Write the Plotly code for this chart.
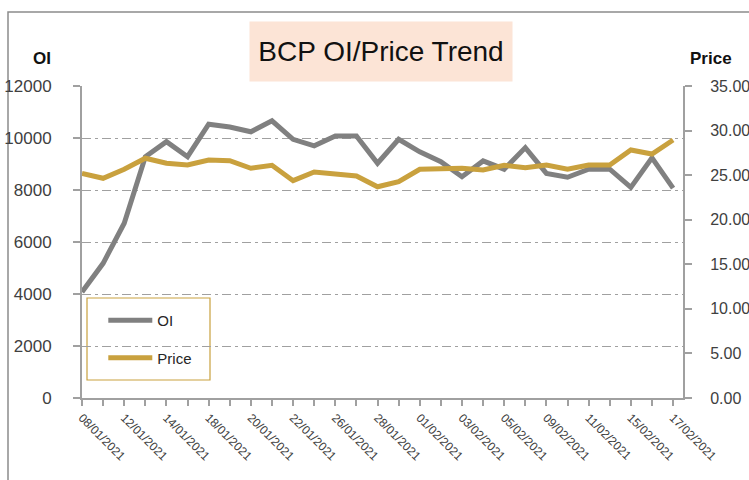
import plotly.graph_objects as go

dates = ["08/01/2021", "11/01/2021", "12/01/2021", "13/01/2021", "14/01/2021", "15/01/2021",
         "18/01/2021", "19/01/2021", "20/01/2021", "21/01/2021", "22/01/2021", "25/01/2021",
         "26/01/2021", "27/01/2021", "28/01/2021", "29/01/2021", "01/02/2021", "02/02/2021",
         "03/02/2021", "04/02/2021", "05/02/2021", "08/02/2021", "09/02/2021", "10/02/2021",
         "11/02/2021", "12/02/2021", "15/02/2021", "16/02/2021", "17/02/2021"]
oi = [4080, 5180, 6720, 9280, 9860, 9280, 10530, 10420, 10240, 10660, 9950, 9700, 10080, 10080,
      9030, 9950, 9470, 9090, 8510, 9120, 8800, 9630, 8640, 8490, 8800, 8800, 8100, 9240, 8070]
price = [25.20, 24.65, 25.66, 26.90, 26.33, 26.14, 26.70, 26.62, 25.77, 26.10, 24.38, 25.35, 25.13,
         24.90, 23.70, 24.27, 25.66, 25.77, 25.77, 25.58, 26.10, 25.84, 26.14, 25.66, 26.14, 26.14,
         27.82, 27.37, 28.94]
tick_labels = [d if i % 2 == 0 else "" for i, d in enumerate(dates)]

GRAY = "#808080"
GOLD = "#C9A13E"
AXIS = "#A0A0A0"
TXT = "#404040"
FONT = "Liberation Sans, Arial, sans-serif"

fig = go.Figure()
fig.add_trace(go.Scatter(x=dates, y=oi, name="OI", mode="lines", legendgroup="a",
                         line=dict(color=GRAY, width=5)))
fig.add_trace(go.Scatter(x=dates, y=price, name="Price", mode="lines", legendgroup="b",
                         yaxis="y2", line=dict(color=GOLD, width=5)))

fig.update_layout(
    width=749, height=480,
    margin=dict(l=82, r=66, t=86, b=82, autoexpand=False),
    paper_bgcolor="white", plot_bgcolor="white",
    font=dict(family=FONT, color=TXT),
    xaxis=dict(type="category", range=[0, 28.47], tickmode="array", tickvals=dates,
               ticktext=tick_labels, tickangle=45, ticks="outside", ticklen=6,
               tickcolor=AXIS, tickwidth=1.5, showline=True, linecolor=AXIS, linewidth=2,
               showgrid=False, tickfont=dict(size=12, color=TXT), zeroline=False,
               automargin=False),
    yaxis=dict(range=[0, 12000], dtick=2000, tickformat="d", ticks="outside", ticklen=7,
               tickcolor=AXIS, tickwidth=1.5, showline=True, linecolor=AXIS, linewidth=2,
               showgrid=True, gridcolor="#A0A0A0", gridwidth=1.2, griddash="9px,4px,3px,4px",
               zeroline=False, tickfont=dict(size=17, color=TXT), ticklabelstandoff=18,
               automargin=False),
    yaxis2=dict(range=[0, 35], dtick=5, tickformat=".2f", overlaying="y", side="right",
                ticks="outside", ticklen=7, tickcolor=AXIS, tickwidth=1.5, showline=True,
                linecolor=AXIS, linewidth=2, showgrid=False, zeroline=False,
                tickfont=dict(size=16, color=TXT), ticklabelstandoff=15, automargin=False),
    legend=dict(x=(103.3 - 82) / 601, y=(398 - 304) / 312, xanchor="left", yanchor="top",
                bgcolor="rgba(0,0,0,0)", borderwidth=0,
                font=dict(size=15, color="#262626"), traceorder="grouped", tracegroupgap=15,
                itemwidth=44),
    shapes=[
        dict(type="rect", xref="paper", yref="paper", x0=(87 - 82) / 601, x1=(210 - 82) / 601,
             y0=(398 - 380) / 312, y1=(398 - 298) / 312, line=dict(color=GOLD, width=1.2),
             fillcolor="white", layer="below"),
        dict(type="rect", xref="paper", yref="paper", x0=(8 - 82) / 601, x1=1.3,
             y0=-0.5, y1=(398 - 12) / 312, line=dict(color="#8C8C8C", width=1.5),
             fillcolor="rgba(0,0,0,0)", layer="below"),
    ],
    annotations=[
        dict(text="BCP OI/Price Trend", xref="paper", yref="paper", x=(381 - 82) / 601,
             y=(398 - 52) / 312, xanchor="center", yanchor="middle", showarrow=False,
             width=260, height=57, bgcolor="#FCE4D6", font=dict(size=28, color="#111111")),
        dict(text="<b>OI</b>", xref="paper", yref="paper", x=(42 - 82) / 601,
             y=(398 - 58) / 312, xanchor="center", yanchor="middle", showarrow=False,
             font=dict(size=17, color="#111111")),
        dict(text="<b>Price</b>", xref="paper", yref="paper", x=(711 - 82) / 601,
             y=(398 - 58) / 312, xanchor="center", yanchor="middle", showarrow=False,
             font=dict(size=17, color="#111111")),
    ],
)

fig.write_html("out.html", config={"displayModeBar": False},
               post_script="document.body.style.margin='0';document.body.style.overflow='hidden';")
